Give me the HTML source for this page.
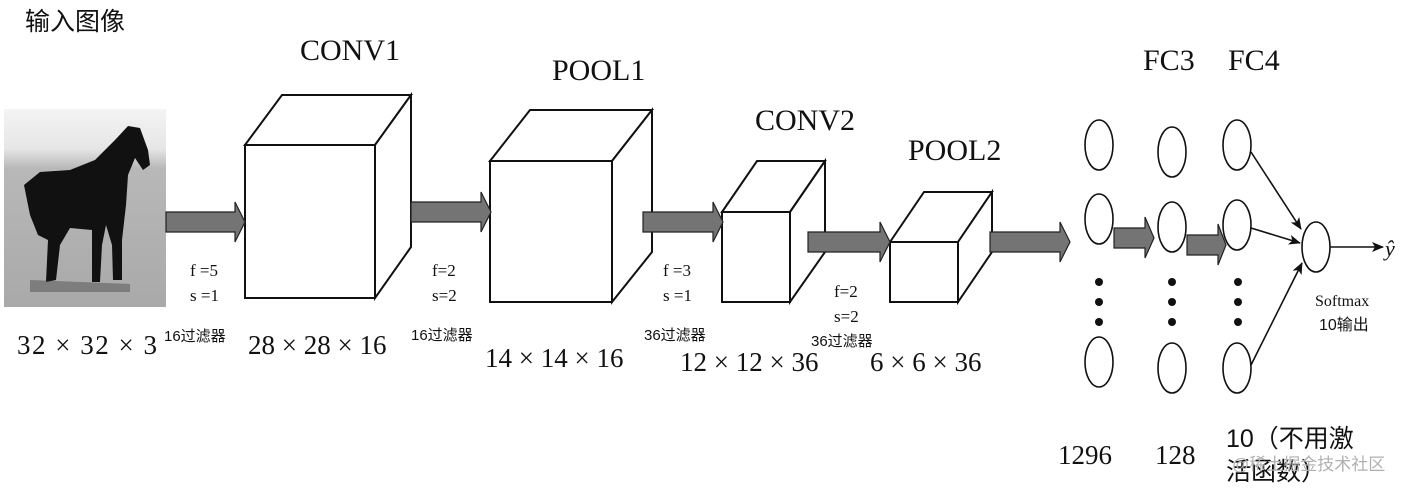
<!DOCTYPE html>
<html><head><meta charset="utf-8"><style>
body{margin:0;background:#fff;width:1404px;height:491px;overflow:hidden}
svg text{font-family:"Liberation Serif","Noto Serif CJK SC",serif;fill:#111}
.cj{font-family:"Liberation Sans","Noto Sans CJK SC",sans-serif}
</style></head><body>
<svg width="1404" height="491" viewBox="0 0 1404 491" xmlns="http://www.w3.org/2000/svg">
<defs>
<linearGradient id="bg" x1="0" y1="0" x2="0" y2="1">
<stop offset="0" stop-color="#f4f4f4"/><stop offset="0.2" stop-color="#e6e6e6"/><stop offset="0.3" stop-color="#b8b8b8"/><stop offset="1" stop-color="#a9a9a9"/></linearGradient>
<marker id="ah" markerWidth="12" markerHeight="10" refX="11" refY="5" orient="auto" markerUnits="userSpaceOnUse"><path d="M0,0 L12,5 L0,10 L3,5 Z" fill="#111"/></marker>
</defs>
<text x="25" y="30" font-size="25" class="cj">输入图像</text>
<rect x="4" y="109" width="162" height="198" fill="url(#bg)"/>
<path d="M24,185 L40,172 L70,170 L95,160 L115,140 L128,126 L140,128 L148,150 L150,165 L143,170 L135,158 L128,175 L126,205 L122,240 L122,280 L113,280 L112,245 L106,225 L102,245 L100,282 L92,282 L92,230 L70,228 L60,245 L56,280 L46,282 L48,240 L38,235 L30,215 Z" fill="#111"/>
<path d="M30,280 L130,284 L130,292 L30,292 Z" fill="#444" opacity="0.45"/>
<g fill="#fff" stroke="#111" stroke-width="2">
<path d="M245,145 L282,95 L411,95 L375,145 Z"/><path d="M375,145 L411,95 L411,247 L375,298 Z"/><rect x="245" y="145" width="130" height="153"/>
<path d="M490,161 L530,110 L652,110 L612,161 Z"/><path d="M612,161 L652,110 L652,252 L612,302 Z"/><rect x="490" y="161" width="122" height="141"/>
<path d="M722,212 L757,161 L825,161 L790,212 Z"/><path d="M790,212 L825,161 L825,252 L790,302 Z"/><rect x="722" y="212" width="68" height="90"/>
<path d="M890,242 L924,192 L992,192 L958,242 Z"/><path d="M958,242 L992,192 L992,252 L958,302 Z"/><rect x="890" y="242" width="68" height="60"/>
</g>
<g fill="#747474" stroke="#222" stroke-width="1.2">
<path d="M166,212 L235,212 L235,202 L245,222 L235,242 L235,232 L166,232 Z"/>
<path d="M411,202 L481,202 L481,192 L491,212 L481,232 L481,222 L411,222 Z"/>
<path d="M643,212 L713,212 L713,202 L723,222 L713,242 L713,232 L643,232 Z"/>
<path d="M808,232 L880,232 L880,222 L890,242 L880,262 L880,252 L808,252 Z"/>
<path d="M990,232 L1060,232 L1060,222 L1070,242 L1060,262 L1060,252 L990,252 Z"/>
<path d="M1114,228 L1145,228 L1145,217 L1154,238 L1145,258 L1145,248 L1114,248 Z"/>
<path d="M1187,235 L1218,235 L1218,224 L1226,245 L1218,265 L1218,255 L1187,255 Z"/>
</g>
<g fill="#fff" stroke="#111" stroke-width="1.6">
<ellipse cx="1099" cy="145" rx="14" ry="25"/><ellipse cx="1099" cy="219" rx="14" ry="25"/><ellipse cx="1099" cy="362" rx="14" ry="25"/>
<ellipse cx="1172" cy="152" rx="14" ry="25"/><ellipse cx="1172" cy="227" rx="14" ry="25"/><ellipse cx="1172" cy="368" rx="14" ry="25"/>
<ellipse cx="1237" cy="145" rx="14" ry="25"/><ellipse cx="1237" cy="225" rx="14" ry="25"/><ellipse cx="1237" cy="368" rx="14" ry="25"/>
<ellipse cx="1316" cy="247" rx="14" ry="25"/>
</g>
<g fill="#111">
<circle cx="1099" cy="282" r="4"/><circle cx="1099" cy="302" r="4"/><circle cx="1099" cy="322" r="4"/>
<circle cx="1172" cy="282" r="4"/><circle cx="1172" cy="302" r="4"/><circle cx="1172" cy="322" r="4"/>
<circle cx="1238" cy="282" r="4"/><circle cx="1238" cy="302" r="4"/><circle cx="1238" cy="322" r="4"/>
</g>
<g stroke="#111" stroke-width="1.6" marker-end="url(#ah)">
<line x1="1251" y1="152" x2="1301" y2="229"/>
<line x1="1251" y1="228" x2="1300" y2="243"/>
<line x1="1251" y1="365" x2="1302" y2="263"/>
<line x1="1330" y1="247" x2="1383" y2="247"/>
</g>
<text x="1385" y="256" font-size="22" font-style="italic">ŷ</text>
<g font-size="30">
<text x="300" y="60">CONV1</text><text x="552" y="80">POOL1</text><text x="755" y="130">CONV2</text><text x="908" y="160">POOL2</text>
<text x="1143" y="70">FC3</text><text x="1228" y="70">FC4</text>
</g>
<g font-size="27">
<text x="17" y="354" textLength="140" lengthAdjust="spacing">32 × 32 × 3</text><text x="248" y="354">28 × 28 × 16</text><text x="485" y="367">14 × 14 × 16</text>
<text x="680" y="371">12 × 12 × 36</text><text x="870" y="371">6 × 6 × 36</text>
<text x="1058" y="464">1296</text><text x="1155" y="464">128</text>
</g>
<text x="1226" y="447" font-size="25" class="cj">10（不用激</text>
<text x="1226" y="480" font-size="25" class="cj">活函数）</text>
<text x="1232" y="470" font-size="17" class="cj" style="fill:#b0b0b0">@稀土掘金技术社区</text>
<g font-size="17">
<text x="190" y="276">f =5</text><text x="190" y="301">s =1</text>
<text x="432" y="276">f=2</text><text x="432" y="301">s=2</text>
<text x="663" y="276">f =3</text><text x="663" y="301">s =1</text>
<text x="834" y="297">f=2</text><text x="834" y="322">s=2</text>
<text x="164" y="341" class="cj" font-size="15">16过滤器</text>
<text x="411" y="340" class="cj" font-size="15">16过滤器</text>
<text x="644" y="340" class="cj" font-size="15">36过滤器</text>
<text x="811" y="346" class="cj" font-size="15">36过滤器</text>
<text x="1315" y="306" font-size="16">Softmax</text>
<text x="1319" y="330" class="cj" font-size="16">10输出</text>
</g>
</svg>
</body></html>
